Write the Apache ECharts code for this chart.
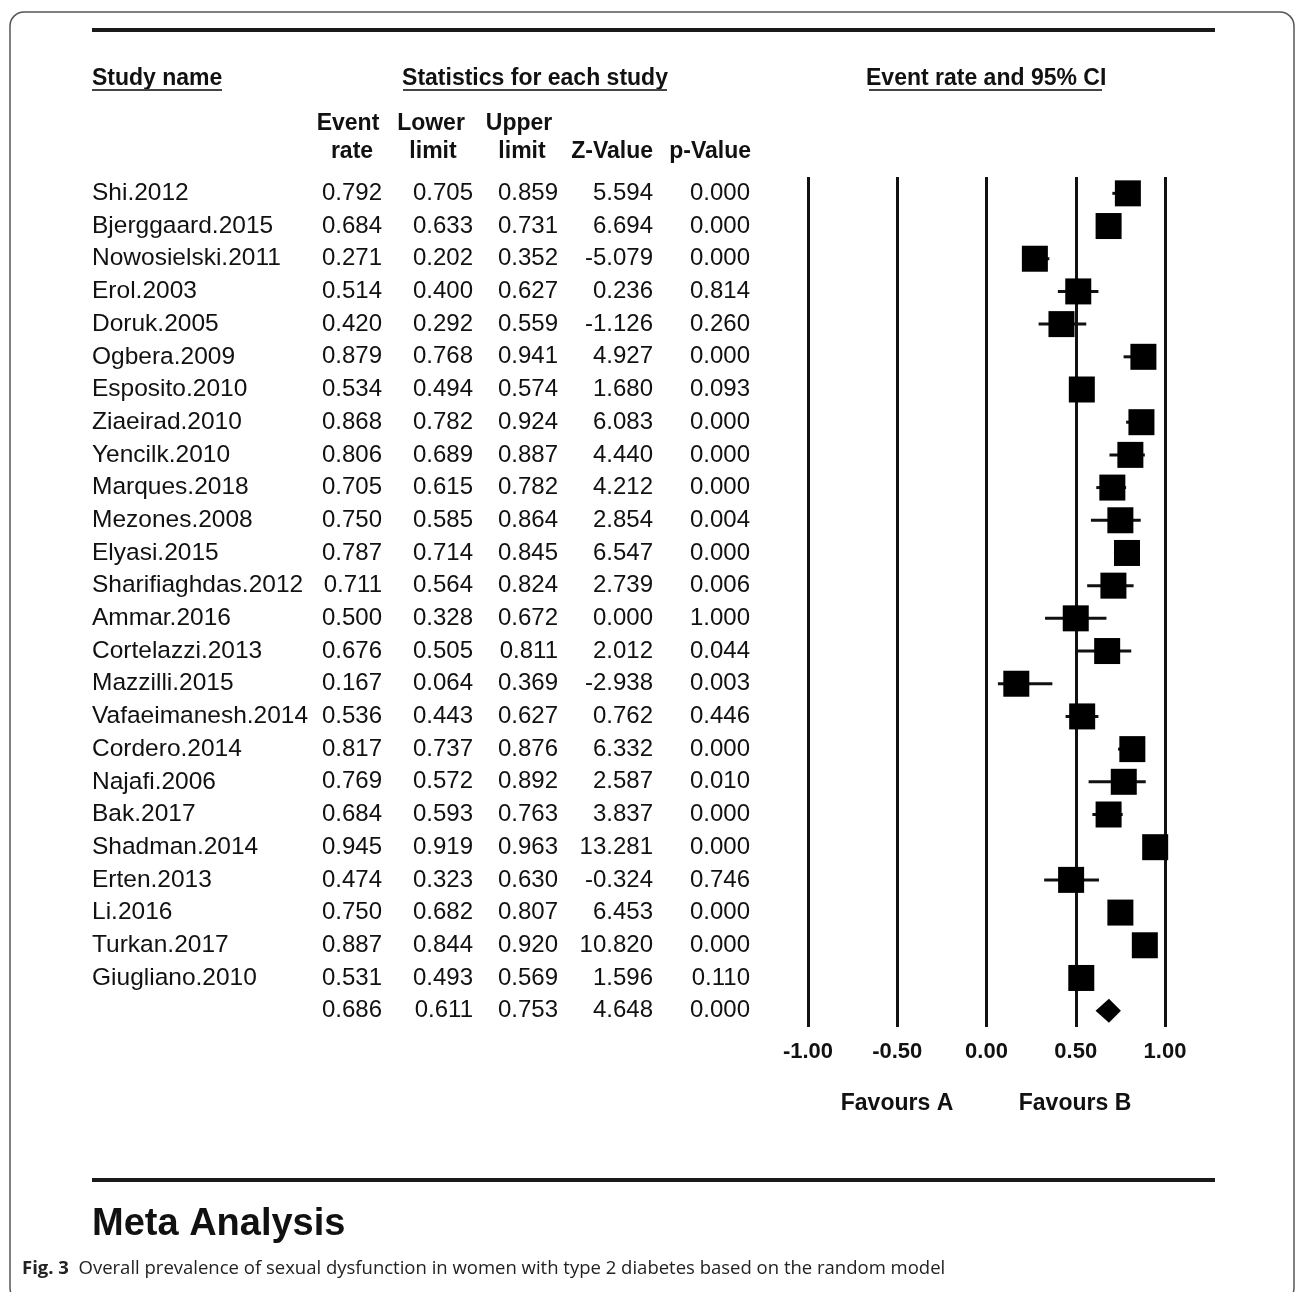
<!DOCTYPE html>
<html>
<head>
<meta charset="utf-8">
<script src="https://cdn.jsdelivr.net/npm/echarts@6/dist/echarts.min.js"></script>
<style>
html,body{margin:0;padding:0;background:#fff;}
#chart{width:1296px;height:1292px;}
</style>
</head>
<body>
<div id="chart"></div>
<script>
const studies = ['Shi.2012','Bjerggaard.2015','Nowosielski.2011','Erol.2003','Doruk.2005','Ogbera.2009','Esposito.2010','Ziaeirad.2010','Yencilk.2010','Marques.2018','Mezones.2008','Elyasi.2015','Sharifiaghdas.2012','Ammar.2016','Cortelazzi.2013','Mazzilli.2015','Vafaeimanesh.2014','Cordero.2014','Najafi.2006','Bak.2017','Shadman.2014','Erten.2013','Li.2016','Turkan.2017','Giugliano.2010'];
const eventRate = [0.792,0.684,0.271,0.514,0.420,0.879,0.534,0.868,0.806,0.705,0.750,0.787,0.711,0.500,0.676,0.167,0.536,0.817,0.769,0.684,0.945,0.474,0.750,0.887,0.531];
const lowerLimit = [0.705,0.633,0.202,0.400,0.292,0.768,0.494,0.782,0.689,0.615,0.585,0.714,0.564,0.328,0.505,0.064,0.443,0.737,0.572,0.593,0.919,0.323,0.682,0.844,0.493];
const upperLimit = [0.859,0.731,0.352,0.627,0.559,0.941,0.574,0.924,0.887,0.782,0.864,0.845,0.824,0.672,0.811,0.369,0.627,0.876,0.892,0.763,0.963,0.630,0.807,0.920,0.569];
const zValue = [5.594,6.694,-5.079,0.236,-1.126,4.927,1.680,6.083,4.440,4.212,2.854,6.547,2.739,0.000,2.012,-2.938,0.762,6.332,2.587,3.837,13.281,-0.324,6.453,10.820,1.596];
const pValue = [0.000,0.000,0.000,0.814,0.260,0.000,0.093,0.000,0.000,0.000,0.004,0.000,0.006,1.000,0.044,0.003,0.446,0.000,0.010,0.000,0.000,0.746,0.000,0.000,0.110];
const summaryRate = 0.686, summaryLower = 0.611, summaryUpper = 0.753, summaryZ = 4.648, summaryP = 0.000;
const xTicks = [-1, -0.5, 0, 0.5, 1];

const FONT = 'Liberation Sans, Arial, sans-serif';
const INK = '#111';
const nRows = studies.length + 1;
const rowIdx = studies.map((_, i) => i);
const fmt3 = v => v.toFixed(3);

const colNames = studies.concat(['']);
const colRate = eventRate.concat([summaryRate]).map(fmt3);
const colLower = lowerLimit.concat([summaryLower]).map(fmt3);
const colUpper = upperLimit.concat([summaryUpper]).map(fmt3);
const colZ = zValue.concat([summaryZ]).map(fmt3);
const colP = pValue.concat([summaryP]).map(fmt3);

function tableAxis(data, offset, align, size) {
  return {
    type: 'category', data: data, inverse: true, position: 'left', offset: offset,
    axisLine: {show: false}, axisTick: {show: false}, splitLine: {show: false},
    axisLabel: {show: true, interval: 0, margin: 0, align: align, color: INK, fontSize: size || 24, fontFamily: FONT, padding: [4, 0, 0, 0]}
  };
}

const chart = echarts.init(document.getElementById('chart'), null, {renderer: 'canvas'});

const hdr = (text, x, y, align, size) => ({
  type: 'text', x: x, y: y,
  style: {text: text, fill: INK, font: 'bold ' + (size || 23) + 'px ' + FONT, textAlign: align || 'left', textVerticalAlign: 'middle'}
});
const hline = (x1, x2, y, w, c) => ({type: 'line', shape: {x1: x1, y1: y, x2: x2, y2: y}, style: {stroke: c || '#1a1a1a', lineWidth: w}});

const option = {
  backgroundColor: '#fff',
  animation: false,
  textStyle: {fontFamily: FONT},
  grid: {left: 808, right: 131, top: 177, height: 850, containLabel: false},
  xAxis: {
    type: 'value', min: -1, max: 1, interval: 0.5,
    axisLine: {show: false}, axisTick: {show: false},
    splitLine: {show: true, lineStyle: {color: INK, width: 3}},
    axisLabel: {margin: 14, fontSize: 22, fontWeight: 'bold', color: INK, fontFamily: FONT,
      formatter: v => xTicks.indexOf(v) >= 0 ? v.toFixed(2) : ''}
  },
  yAxis: [
    tableAxis(colNames, 716, 'left', 24.5),
    tableAxis(colRate, 426, 'right'),
    tableAxis(colLower, 335, 'right'),
    tableAxis(colUpper, 250, 'right'),
    tableAxis(colZ, 155, 'right'),
    tableAxis(colP, 58, 'right')
  ],
  series: [
    {
      type: 'custom', yAxisIndex: 0,
      data: rowIdx.map(i => [lowerLimit[i], upperLimit[i], i]),
      encode: {x: [0, 1], y: 2},
      renderItem: function (params, api) {
        const a = api.coord([api.value(0), api.value(2)]);
        const b = api.coord([api.value(1), api.value(2)]);
        return {type: 'line', shape: {x1: a[0], y1: a[1], x2: b[0], y2: b[1]}, style: {stroke: INK, lineWidth: 3}};
      },
      z: 2
    },
    {
      type: 'scatter', yAxisIndex: 0, symbol: 'rect', symbolSize: 26,
      itemStyle: {color: '#000', opacity: 1},
      emphasis: {disabled: true},
      data: rowIdx.map(i => [eventRate[i], i]),
      z: 3
    },
    {
      type: 'custom', yAxisIndex: 0,
      data: [[summaryLower, summaryRate, summaryUpper, nRows - 1]],
      encode: {x: [0, 2], y: 3},
      renderItem: function (params, api) {
        const l = api.coord([api.value(0), api.value(3)]);
        const m = api.coord([api.value(1), api.value(3)]);
        const u = api.coord([api.value(2), api.value(3)]);
        return {type: 'polygon', shape: {points: [[l[0], l[1]], [m[0], m[1] - 12], [u[0], u[1]], [m[0], m[1] + 12]]}, style: {fill: '#000'}};
      },
      z: 3
    }
  ],
  graphic: [
    {type: 'rect', shape: {x: 10, y: 12, width: 1284, height: 1290, r: 14}, style: {fill: 'none', stroke: '#555', lineWidth: 1.5}, z: -10},
    hline(92, 1215, 30, 4),
    hline(92, 1215, 1180, 4),
    hdr('Study name', 92, 79, 'left'),
    hline(92, 222, 90, 2, '#444'),
    hdr('Statistics for each study', 535, 79, 'center'),
    hline(403, 667, 90, 2, '#444'),
    hdr('Event rate and 95% CI', 866, 79, 'left'),
    hline(869, 1102, 90, 2, '#444'),
    hdr('Event', 348, 124, 'center'),
    hdr('rate', 352, 152, 'center'),
    hdr('Lower', 431, 124, 'center'),
    hdr('limit', 433, 152, 'center'),
    hdr('Upper', 519, 124, 'center'),
    hdr('limit', 522, 152, 'center'),
    hdr('Z-Value', 653, 152, 'right'),
    hdr('p-Value', 751, 152, 'right'),
    hdr('Favours A', 897, 1104, 'center'),
    hdr('Favours B', 1075, 1104, 'center'),
    hdr('Meta Analysis', 92, 1225, 'left', 38),
    {
      type: 'text', x: 22, y: 1269,
      style: {
        text: '{b|Fig. 3}  Overall prevalence of sexual dysfunction in women with type 2 diabetes based on the random model',
        fill: '#222', font: '18.5px Open Sans, sans-serif', textVerticalAlign: 'middle',
        rich: {b: {fontWeight: 'bold', fontFamily: 'Open Sans, sans-serif', fontSize: 18.5, fill: '#222'}}
      }
    }
  ]
};
chart.setOption(option);
</script>
</body>
</html>
